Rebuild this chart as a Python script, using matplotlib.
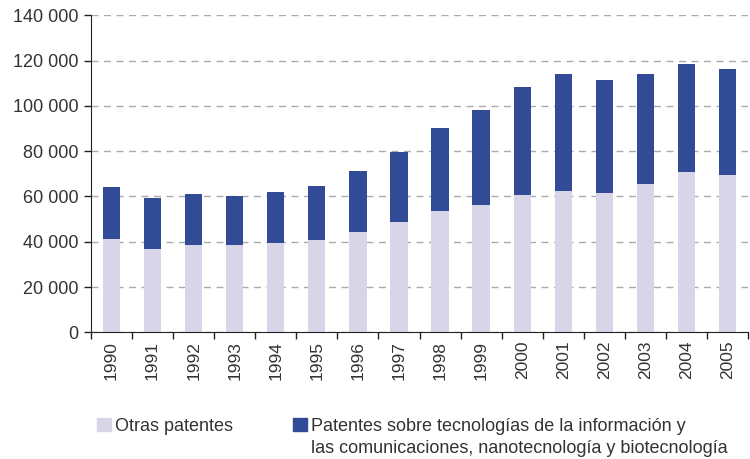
import matplotlib
matplotlib.use("Agg")
import matplotlib.pyplot as plt
from matplotlib.ticker import FuncFormatter, FixedLocator
from matplotlib.patches import Rectangle

years = [str(y) for y in range(1990, 2006)]
otras = [41000, 36800, 38500, 38500, 39400, 40700, 44300, 48700, 53600, 56200, 60600, 62400, 61500, 65500, 70800, 69500]
totales = [64200, 59300, 61100, 60200, 62000, 64600, 71200, 79600, 90200, 98200, 108300, 114100, 111400, 114100, 118500, 116300]
tic = [t - o for t, o in zip(totales, otras)]

label_otras = "Otras patentes"
label_tic_1 = "Patentes sobre tecnologías de la información y"
label_tic_2 = "las comunicaciones, nanotecnología y biotecnología"

c_light = "#d9d5e8"
c_dark = "#324b96"
txt = "#333333"

plt.rcParams['font.family'] = ['Liberation Sans', 'DejaVu Sans']

W, H = 750, 459
fig = plt.figure(figsize=(W/100, H/100), dpi=100)
ax = fig.add_axes([91/W, 1-332.3/H, (748-91)/W, (332.3-15.3)/H])

x = list(range(len(years)))
ax.bar(x, otras, width=0.42, color=c_light, zorder=2)
ax.bar(x, tic, bottom=otras, width=0.42, color=c_dark, zorder=2)

ax.set_xlim(-0.5, len(years) - 0.5)
ax.set_ylim(0, 140000)
ax.set_yticks(range(0, 140001, 20000))
ax.yaxis.set_major_formatter(FuncFormatter(lambda v, p: f"{int(v):,}".replace(",", " ")))
ax.yaxis.grid(True, color="#aaaaaa", linestyle=(0, (5, 4)), linewidth=1)
ax.set_axisbelow(True)

ax.set_xticks(x)
ax.set_xticklabels(years, rotation=90)
ax.xaxis.set_minor_locator(FixedLocator([i - 0.5 for i in range(len(years) + 1)]))
ax.tick_params(axis='x', which='major', length=0, pad=6, labelsize=12.5, labelcolor=txt)
ax.tick_params(axis='x', which='minor', length=5, width=1, direction='out', color='#222222')
ax.tick_params(axis='y', length=5, width=1, direction='out', labelsize=13, labelcolor=txt, color='#222222', pad=4)

for s in ['top', 'right']:
    ax.spines[s].set_visible(False)
ax.spines['left'].set_color('#222222')
ax.spines['bottom'].set_color('#222222')

# legend (manual, handle aligned with first line)
def px(xp, yp):
    return xp / W, 1 - yp / H

fig.add_artist(Rectangle(px(97, 431), 14/W, 13/H, transform=fig.transFigure, color=c_light))
fig.add_artist(Rectangle(px(293, 431), 14/W, 13/H, transform=fig.transFigure, color=c_dark))
fig.text(*px(115, 431), label_otras, fontsize=13, color=txt, va='baseline', ha='left')
fig.text(*px(311, 431), label_tic_1, fontsize=13, color=txt, va='baseline', ha='left')
fig.text(*px(311, 453.3), label_tic_2, fontsize=13, color=txt, va='baseline', ha='left')

fig.savefig("out.png", dpi=100)
